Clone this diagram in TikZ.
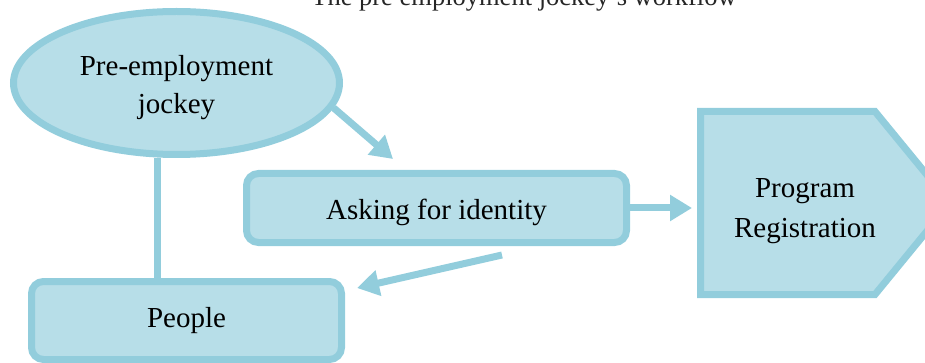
\documentclass[tikz,border=0pt]{standalone}
\usepackage{fontspec}
\setmainfont{Liberation Serif}
\usetikzlibrary{arrows.meta,shapes.geometric}
\definecolor{boxfill}{HTML}{B7DEE8}
\definecolor{boxline}{HTML}{92CDDC}
\tikzset{
  shapestyle/.style={draw=boxline,fill=boxfill,line width=7pt},
  boxnode/.style={shapestyle,rectangle,rounded corners=12pt,inner sep=0pt,
    font=\fontsize{29}{38}\selectfont,align=center},
  ellnode/.style={shapestyle,ellipse,inner sep=0pt,
    font=\fontsize{29}{38}\selectfont,align=center},
  txt/.style={font=\fontsize{29}{40}\selectfont,align=center,inner sep=0pt},
  conn/.style={draw=boxline,line width=7pt},
  arr/.style={conn,-{Triangle[length=22pt,width=25pt]}}
}
\begin{document}
\begin{tikzpicture}[x=1pt,y=-1pt]
\useasboundingbox (0,0) rectangle (925,363);
\clip (0,0) rectangle (925,363);
% title
\node[anchor=base,font=\fontsize{26.5}{30}\selectfont,text=black!85,inner sep=0pt] (title) at (524,6) {The pre employment jockey's workflow};
% shapes
\coordinate (vline) at (157.5,0);
\node[ellnode,minimum width=326pt,minimum height=143pt] (ell) at (176.5,83) {\rule{0pt}{29pt}Pre-employment\\jockey};
\node[boxnode,minimum width=380pt,minimum height=69pt,text height=30pt,text depth=6pt] (ask) at (436.5,208) {Asking for identity};
\node[boxnode,minimum width=310pt,minimum height=78pt] (people) at (186.5,320.5) {People};
\draw[shapestyle,line join=miter] (700.5,111.5) -- (875,111.5) -- (950,203) -- (875,294.5) -- (700.5,294.5) -- cycle;
\node[txt] (reg) at (805,211) {Program\\Registration};
% connectors
\coordinate (tipA) at (393,159);
\coordinate (tipR) at (692,208);
\coordinate (startP) at (502,255);
\coordinate (tipP) at (357,288);
\draw[conn] (ell.south -| vline) -- (people.north -| vline);
\draw[arr] (ell.-9) -- (tipA);
\draw[arr] (ask.east) -- (tipR);
\draw[arr] (startP) -- (tipP);
\end{tikzpicture}
\end{document}
